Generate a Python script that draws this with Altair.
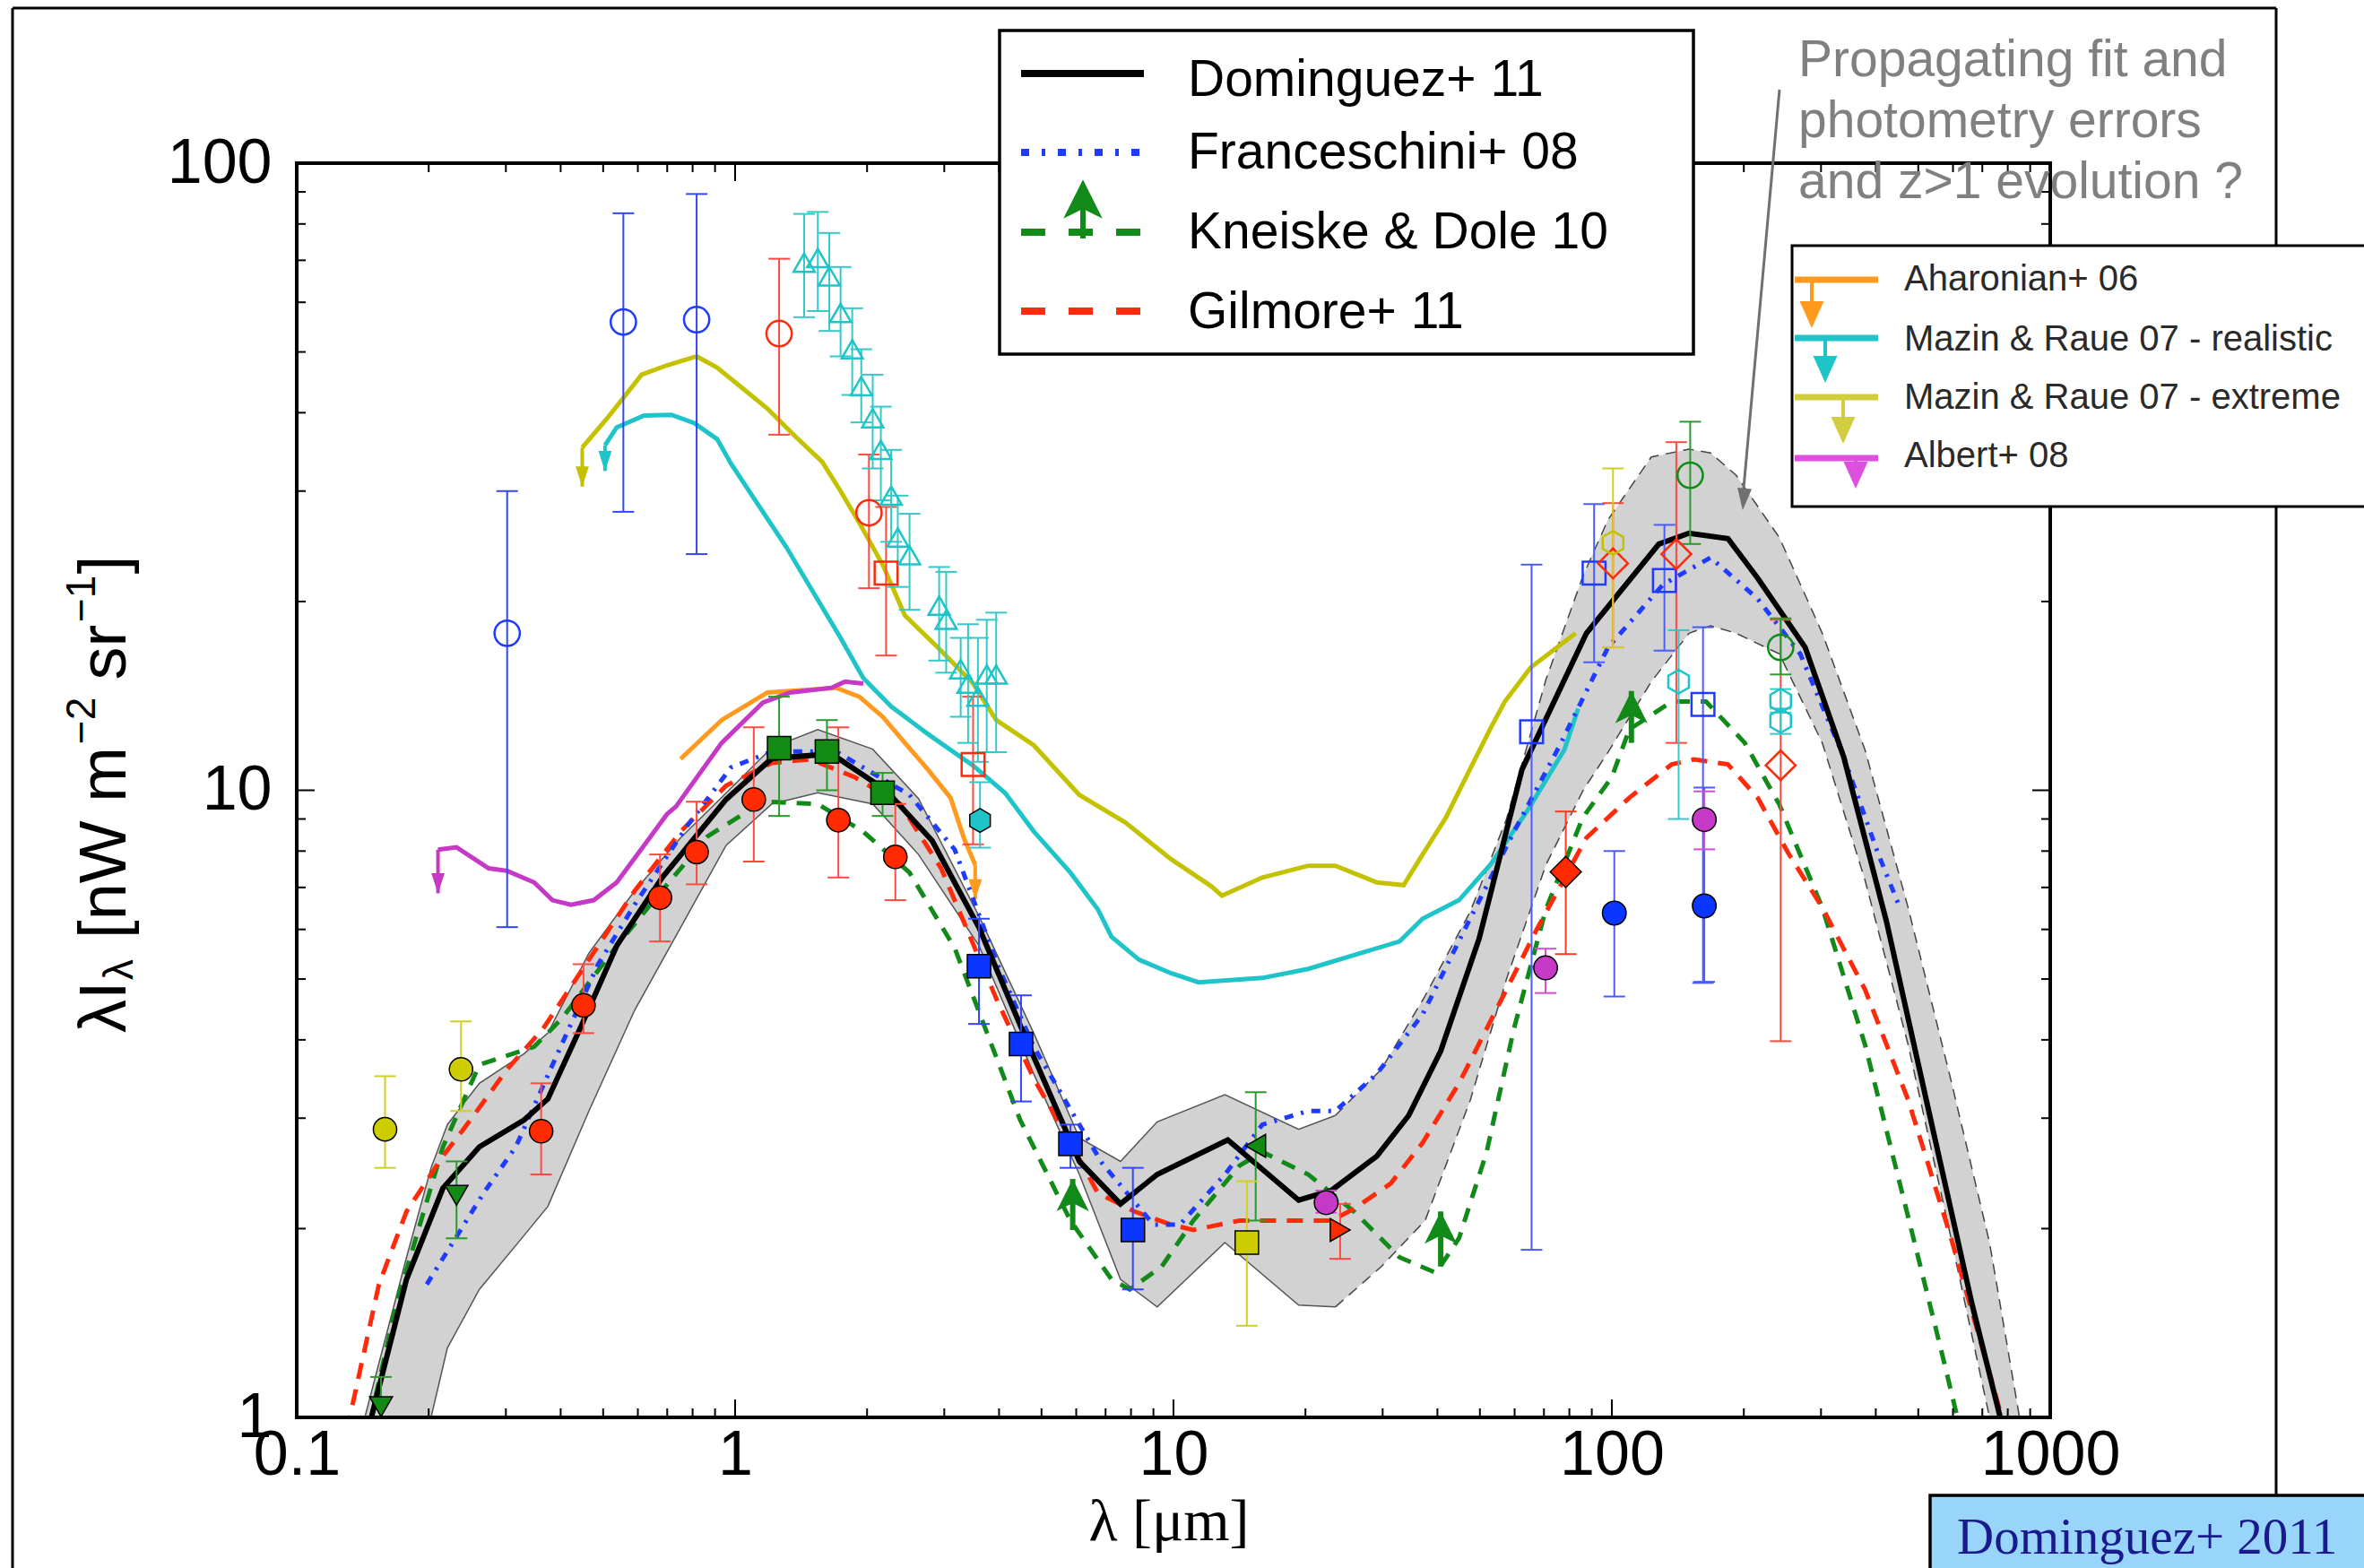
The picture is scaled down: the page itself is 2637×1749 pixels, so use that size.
import altair as alt
import pandas as pd

# ---------------- Dominguez+11 fit and its uncertainty band ----------------
dom_x = [0.148, 0.178, 0.2155, 0.261, 0.330, 0.374, 0.443, 0.537, 0.682, 0.954, 1.213, 1.66, 2.21, 2.815,
         3.60, 4.69, 6.10, 7.57, 9.18, 13.3, 19.3, 22.9, 29.1, 34.4, 40.7, 49.8, 62.4, 70.0, 87.5, 128,
         150, 184, 215, 276, 338, 423, 530, 664, 769]
dom_y = [1.0, 1.66, 2.32, 2.70, 2.98, 3.22, 4.17, 5.65, 7.26, 9.67, 11.24, 11.43, 10.0, 8.31,
         6.04, 3.90, 2.56, 2.19, 2.44, 2.77, 2.22, 2.30, 2.61, 3.03, 3.84, 5.8, 10.8, 12.8, 17.8, 24.7,
         25.7, 25.2, 21.8, 16.9, 11.3, 6.18, 3.05, 1.51, 1.0]

band_x = [0.143, 0.178, 0.2025, 0.2206, 0.261, 0.33, 0.374, 0.464, 0.59, 0.751, 0.954, 1.213, 1.544, 2.06,
          2.62, 3.6, 4.8, 6.1, 7.57, 9.18, 13.1, 19.3, 23.4, 29.8, 37.5, 47.5, 57.5, 70.7, 86, 98, 123,
          150, 168, 192, 241, 302, 378, 474, 593, 727, 851]
band_lo = [0.7, 0.85, 1.0, 1.29, 1.60, 1.95, 2.17, 3.08, 4.46, 6.04, 8.17, 9.51, 9.91, 9.51,
           7.90, 5.65, 3.53, 2.44, 1.66, 1.50, 1.90, 1.51, 1.50, 1.74, 2.06, 3.2, 5.0, 7.6, 10.0, 11.5, 14.9,
           17.8, 18.3, 17.8, 16.5, 11.9, 7.19, 3.93, 1.94, 1.0, 0.6]
band_hi = [1.0, 1.80, 2.5, 2.93, 3.41, 3.8, 4.1, 5.5, 6.91, 8.4, 9.9, 11.7, 12.5, 11.63,
           9.7, 6.3, 4.1, 2.79, 2.56, 2.96, 3.27, 2.88, 3.03, 3.59, 4.7, 6.4, 9.0, 15.0, 22.0, 27.0, 34.0,
           35.0, 34.5, 31.8, 25.3, 17.8, 11.6, 6.5, 3.46, 1.9, 1.0]

# ---------------- other EBL models ----------------
fra_x = [0.198, 0.267, 0.316, 0.40, 0.487, 0.59, 0.78, 0.978, 1.213, 1.70, 2.50, 3.17, 4.0, 4.80, 6.1,
         6.88, 9.0, 10.35, 13.1, 15.95, 20.3, 23.4, 29.1, 37.0, 47.0, 59.8, 76.1, 98, 131, 168, 215, 269,
         338, 404, 450]
fra_y = [1.63, 2.28, 2.70, 3.9, 5.28, 6.57, 8.8, 10.87, 11.53, 11.53, 9.83, 8.04, 5.2, 3.90, 2.93,
         2.54, 2.03, 2.03, 2.44, 2.93, 3.08, 3.08, 3.53, 4.39, 6.15, 8.59, 11.8, 16.9, 21.3, 23.5, 20.2, 16.5,
         11.3, 7.96, 6.6]

kne_x = [0.145, 0.150, 0.169, 0.2155, 0.261, 0.348, 0.402, 0.537, 0.666, 0.867, 1.157, 1.544, 1.96, 2.50,
         3.17, 4.47, 5.82, 7.22, 7.95, 9.40, 11.1, 14.15, 15.95, 20.3, 25.8, 32.8, 39.7, 44.8, 51.8, 59.8,
         70.7, 85.8, 100, 109.6, 137, 164, 201, 241, 302, 378, 474, 567, 614]
kne_y = [0.9, 1.05, 1.52, 2.70, 3.65, 3.90, 4.32, 5.65, 6.79, 8.45, 9.59, 9.51, 8.59, 7.39,
         5.6, 2.98, 2.06, 1.66, 1.60, 1.74, 2.06, 2.52, 2.65, 2.44, 2.13, 1.80, 1.70, 1.93, 2.65, 4.17,
         6.46, 9.04, 10.5, 12.5, 13.85, 13.85, 11.9, 9.49, 6.5, 3.93, 2.09, 1.26, 1.0]
kne_arrow_x = [5.89, 40.7, 110.8]
kne_arrow_base = [1.99, 1.74, 11.9]
kne_arrow_tip = [2.40, 2.13, 14.4]

gil_x = [0.13, 0.154, 0.178, 0.2155, 0.249, 0.302, 0.365, 0.464, 0.59, 0.751, 0.954, 1.213, 1.485, 1.87,
         2.38, 2.95, 3.96, 4.80, 5.82, 6.72, 8.14, 9.86, 11.1, 14.15, 22.9, 25.8, 31.3, 37.0, 44.8, 53.0,
         67.4, 87.5, 109.6, 137, 154, 184, 215, 252, 302, 378, 474, 593, 743, 790]
gil_y = [0.95, 1.63, 2.13, 2.61, 2.98, 3.59, 4.17, 5.37, 6.91, 8.59, 10.17, 11.06, 11.2, 10.5,
         9.51, 7.51, 4.62, 3.47, 2.74, 2.28, 2.13, 2.03, 1.99, 2.06, 2.06, 2.15, 2.36, 2.74, 3.41, 4.3,
         6.0, 8.4, 9.73, 11.0, 11.2, 11.0, 9.73, 7.96, 6.5, 4.81, 3.21, 1.94, 1.115, 0.95]

# ---------------- upper limits ----------------
aha_x = [0.751, 0.932, 1.185, 1.70, 1.92, 2.17, 2.44, 2.75, 3.10, 3.33, 3.53]
aha_y = [11.22, 12.94, 14.32, 14.57, 14.1, 13.1, 11.9, 10.8, 9.73, 8.37, 7.6]
aha_tip = 6.7

alb_x = [0.21, 0.2315, 0.274, 0.302, 0.348, 0.383, 0.422, 0.476, 0.537, 0.62, 0.699, 0.733, 0.932,
         1.157, 1.336, 1.66, 1.78, 1.96]
alb_y = [8.04, 8.11, 7.51, 7.44, 7.13, 6.68, 6.57, 6.68, 7.13, 8.17, 9.16, 9.42, 11.9,
         13.8, 14.32, 14.57, 14.9, 14.8]
alb_tip = 6.85

mrr_x = [0.505, 0.537, 0.62, 0.716, 0.807, 0.91, 0.978, 1.13, 1.305, 1.507, 1.74, 1.96, 2.27, 2.75,
         3.49, 4.13, 4.80, 5.82, 6.72, 7.22, 8.34, 9.86, 11.4, 15.95, 20.3, 25.8, 32.8, 37.0, 44.8, 53.0,
         64.3, 77.9, 83.8]
mrr_y = [35.5, 37.9, 39.6, 39.7, 38.5, 36.3, 33.2, 28.5, 24.5, 20.7, 17.5, 15.1, 13.6, 12.3,
         10.95, 9.9, 8.6, 7.39, 6.46, 5.84, 5.37, 5.11, 4.94, 5.02, 5.19, 5.46, 5.74, 6.24, 6.68, 7.63,
         9.3, 11.6, 13.5]
mrr_tip = 32.3

mre_x = [0.448, 0.511, 0.612, 0.699, 0.817, 0.91, 1.026, 1.185, 1.37, 1.58, 1.74, 1.92, 2.17, 2.44,
         2.95, 3.49, 3.94, 4.80, 6.10, 7.76, 9.86, 12.2, 12.9, 15.95, 20.3, 23.4, 29.1, 33.5, 37.0,
         41.8, 47.0, 53.0, 57.0, 65.3, 82.7]
mre_y = [35.2, 39.2, 46.0, 47.6, 49.2, 47.2, 44.1, 40.6, 36.7, 33.4, 30.0, 26.7, 22.9, 19.0,
         16.7, 14.8, 12.94, 11.8, 9.83, 8.89, 7.77, 7.03, 6.79, 7.26, 7.58, 7.58, 7.13, 7.06, 7.90,
         9.04, 10.66, 12.6, 13.85, 15.7, 17.8]
mre_tip = 30.5

# ---------------- photometric / fluctuation data points ----------------
pts_blue_open_circ = dict(x=[0.302, 0.556, 0.817], y=[17.8, 55.8, 56.3], lo=[6.05, 27.8, 23.8], hi=[30.0, 83.2, 89.3])
pts_red_open_circ = dict(x=[1.26, 2.02], y=[53.5, 27.7], lo=[36.9, 21.0], hi=[70.4, 34.3])
pts_red_open_sq = dict(x=[2.21, 3.49], y=[22.2, 10.99], lo=[16.4, 8.2], hi=[28.3, 14.1])
pts_cyan_open_tri = dict(
    x=[1.437, 1.544, 1.64, 1.74, 1.85, 1.94, 2.06, 2.15, 2.27, 2.35, 2.50, 2.92, 3.03, 3.27, 3.40, 3.58, 3.75, 3.94],
    y=[69.4, 70.6, 66.0, 57.7, 50.5, 44.1, 39.2, 34.9, 29.5, 25.3, 23.7, 19.7, 18.7, 15.6, 14.8, 14.1, 15.3, 15.3],
    lo=[56.8, 58.1, 54.0, 49.2, 42.7, 38.6, 32.6, 29.0, 24.9, 21.1, 19.4, 16.1, 15.4, 13.1, 11.9, 11.1, 11.5, 11.5],
    hi=[83.0, 83.6, 77.4, 68.3, 58.7, 50.5, 46.0, 40.9, 34.9, 29.5, 27.6, 22.7, 22.3, 17.5, 18.4, 17.5, 18.7, 19.2])
pts_cyan_filled_hex = dict(x=[3.62], y=[8.95], lo=[8.1], hi=[10.3])
pts_blue_open_sq = dict(x=[65.6, 91.1, 131.8, 161.4], y=[12.4, 22.2, 21.6, 13.7], lo=[1.85, 16.0, 16.7, 4.93], hi=[22.9, 28.6, 26.5, 18.2])
pts_blue_filled_circ = dict(x=[101.3, 162.5], y=[6.37, 6.54], lo=[4.69, 4.95], hi=[8.0, 10.1])
pts_magenta_filled_circ = dict(x=[22.3, 70.6, 162.5], y=[2.20, 5.21, 8.98], lo=[2.12, 4.75, 8.05], hi=[2.30, 5.59, 9.96])
pts_red_filled_diamond = dict(x=[78.5], y=[7.41], lo=[5.48], hi=[9.25])
pts_red_open_diamond = dict(x=[100.6, 140.3, 242.7], y=[23.0, 23.8, 10.96], lo=[16.9, 11.9, 3.98], hi=[28.7, 35.9, 18.7])
pts_yellow_open_hex = dict(x=[100.6], y=[24.8], lo=[16.9], hi=[32.6])
pts_green_open_circ = dict(x=[150.9, 242.7], y=[31.8, 16.9], lo=[24.7, 15.3], hi=[38.7, 18.8])
pts_cyan_open_hex = dict(x=[142.0, 242.7, 242.7], y=[14.9, 13.9, 12.9], lo=[9.0, 13.3, 12.3], hi=[18.0, 14.5, 13.5])
pts_red_filled_circ = dict(x=[0.361, 0.451, 0.674, 0.817, 1.103, 1.72, 2.32], y=[2.86, 4.54, 6.74, 7.97, 9.67, 8.96, 7.83],
                           lo=[2.44, 4.1, 5.74, 7.08, 7.7, 7.26, 6.68], hi=[3.41, 5.28, 7.9, 9.59, 12.6, 12.6, 9.51])
pts_green_filled_sq = dict(x=[1.26, 1.62, 2.17], y=[11.67, 11.53, 9.91], lo=[9.1, 10.0, 9.1], hi=[14.1, 12.94, 10.66])
pts_green_filled_tri_down = dict(x=[0.1557, 0.2315], y=[1.04, 2.26], lo=[0.9, 1.93], hi=[1.16, 2.56])
pts_yellow_filled_circ = dict(x=[0.159, 0.237], y=[2.88, 3.59], lo=[2.5, 3.08], hi=[3.5, 4.28])
pts_blue_filled_sq = dict(x=[3.60, 4.49, 5.82, 8.08], y=[5.24, 3.94, 2.73, 1.99], lo=[4.24, 3.19, 2.5, 1.60], hi=[6.24, 4.71, 2.93, 2.5])
pts_green_filled_tri_left = dict(x=[15.4], y=[2.71], lo=[2.06], hi=[3.30])
pts_yellow_filled_sq = dict(x=[14.7], y=[1.90], lo=[1.40], hi=[2.38])
pts_red_filled_tri_right = dict(x=[24.0], y=[1.99], lo=[1.79], hi=[2.19])

# ---------------- texts ----------------
legend_models = ["Dominguez+ 11", "Franceschini+ 08", "Kneiske & Dole 10", "Gilmore+ 11"]
legend_limits = ["Aharonian+ 06", "Mazin & Raue 07 - realistic", "Mazin & Raue 07 - extreme", "Albert+ 08"]
note_lines = ["Propagating fit and", "photometry errors", "and z>1 evolution ?"]
x_tick_values = [0.1, 1, 10, 100, 1000]
y_tick_values = [1, 10, 100]

# ======================= layout / styling =======================
LEFT, TOP = 331, 182
W, H = 1956, 1399
FONT = "Liberation Sans"

def px(v):
    return v - LEFT

def py(v):
    return v - TOP

XS = alt.Scale(type="log", domain=[0.1, 1000])
YS = alt.Scale(type="log", domain=[1, 100])
XA = alt.Axis(values=x_tick_values, format="~g", labelFont=FONT, labelFontSize=70, labelColor="black",
              labelPadding=8, labelFlush=False, labelOverlap=False, labelBaseline="top",
              ticks=False, domain=False, grid=False)
YA = alt.Axis(values=y_tick_values, format="~g", labelFont=FONT, labelFontSize=70, labelColor="black",
              labelPadding=28, labelFlush=False, labelOverlap=False, labelBaseline="middle", labelAlign="right",
              ticks=False, domain=False, grid=False)


def X(f="x"):
    return alt.X(f"{f}:Q", scale=XS, axis=XA, title=None)


def Y(f="y"):
    return alt.Y(f"{f}:Q", scale=YS, axis=YA, title=None)


ONE = pd.DataFrame({"a": [0]})
layers = []


def line(xs, ys, color, width, dash=None):
    df = pd.DataFrame({"x": xs, "y": ys, "o": list(range(len(xs)))})
    kw = dict(color=color, strokeWidth=width, clip=True)
    if dash:
        kw["strokeDash"] = dash
    return alt.Chart(df).mark_line(**kw).encode(x=X(), y=Y(), order="o:Q")


def seg(x1, y1, x2, y2, color, w, dash=None):
    kw = dict(color=color, strokeWidth=w)
    if dash:
        kw["strokeDash"] = dash
    return alt.Chart(ONE).mark_rule(**kw).encode(
        x=alt.value(px(x1)), x2=alt.value(px(x2)), y=alt.value(py(y1)), y2=alt.value(py(y2)))


def box(x1, y1, x2, y2, fill, w=3.5):
    return alt.Chart(ONE).mark_rect(fill=fill, stroke="black", strokeWidth=w).encode(
        x=alt.value(px(x1)), x2=alt.value(px(x2)), y=alt.value(py(y1)), y2=alt.value(py(y2)))


def txt(x, y, s, size, color="black", font=FONT, align="left", baseline="alphabetic", angle=0):
    kw = dict(text=s, fontSize=size, color=color, font=font, align=align, baseline=baseline)
    if angle:
        kw["angle"] = angle
    return alt.Chart(ONE).mark_text(**kw).encode(x=alt.value(px(x)), y=alt.value(py(y)))


def pixhead(x, y, color, size, path, angle=0):
    kw = dict(shape=path, filled=True, fill=color, strokeWidth=0, size=size, opacity=1)
    if angle:
        kw["angle"] = angle
    return alt.Chart(ONE).mark_point(**kw).encode(x=alt.value(px(x)), y=alt.value(py(y)))


def datahead(x, y, color, size, path, yoff):
    df = pd.DataFrame({"x": [x], "y": [y]})
    return alt.Chart(df).mark_point(shape=path, filled=True, fill=color, strokeWidth=0, size=size,
                                    opacity=1, yOffset=yoff, clip=True).encode(x=X(), y=Y())


def datastem(x, y1, y2, color, w):
    df = pd.DataFrame({"x": [x], "y": [y1], "y2": [y2]})
    return alt.Chart(df).mark_rule(color=color, strokeWidth=w, clip=True).encode(x=X(), y=Y(), y2=alt.Y2("y2:Q"))


def errbars(d, color, cap=24, w=2):
    df = pd.DataFrame({"x": d["x"], "lo": d["lo"], "hi": d["hi"]})
    base = alt.Chart(df)
    r = base.mark_rule(color=color, strokeWidth=w, clip=True).encode(x=X(), y=Y("lo"), y2=alt.Y2("hi:Q"))
    c1 = base.mark_tick(orient="horizontal", size=cap, thickness=w, color=color, opacity=1, clip=True).encode(x=X(), y=Y("lo"))
    c2 = base.mark_tick(orient="horizontal", size=cap, thickness=w, color=color, opacity=1, clip=True).encode(x=X(), y=Y("hi"))
    return [r, c1, c2]


def markers(d, shape, color, size, filled, sw=1.5):
    df = pd.DataFrame({"x": d["x"], "y": d["y"]})
    if filled:
        m = alt.Chart(df).mark_point(shape=shape, filled=True, fill=color, stroke="black", strokeWidth=sw,
                                     size=size, opacity=1, clip=True)
    else:
        m = alt.Chart(df).mark_point(shape=shape, filled=False, color=color, strokeWidth=2.5,
                                     size=size, opacity=1, clip=True)
    return m.encode(x=X(), y=Y())


HEX = "M0,-1L0.866,-0.5L0.866,0.5L0,1L-0.866,0.5L-0.866,-0.5Z"
DOWN_HEAD = "M-0.65,-1L0.65,-1L0,1Z"
WIDE_DOWN = "M-0.9,-1L0.9,-1L0,1Z"
UP_NOTCH = "M0,-1L1,1L0,0.5L-1,1Z"

C_BLUE, C_RED, C_GREEN = "#1f3bff", "#ff2a0a", "#128a1a"
C_ORANGE, C_CYAN, C_OLIVE, C_MAG = "#ff9a1f", "#1fc4c8", "#c4c200", "#c638c6"

# ---- outer slide frame ----
layers.append(seg(14, 9, 14, 1760, "black", 3))
layers.append(seg(14, 9, 2539, 9, "black", 3))
layers.append(seg(2539, 9, 2539, 1668, "black", 3))

# ---- uncertainty band ----
band_df = pd.DataFrame({"x": band_x, "lo": band_lo, "hi": band_hi})
layers.append(alt.Chart(band_df).mark_area(color="#d2d2d2", opacity=1, clip=True).encode(
    x=X(), y=Y("lo"), y2=alt.Y2("hi:Q")))
split = 23
layers.append(line(band_x[:split], band_lo[:split], "#555555", 1.5))
layers.append(line(band_x[:split], band_hi[:split], "#555555", 1.5))
layers.append(line(band_x[split - 1:], band_lo[split - 1:], "#444444", 1.5, [12, 8]))
layers.append(line(band_x[split - 1:], band_hi[split - 1:], "#444444", 1.5, [12, 8]))

# ---- upper limit curves with their arrows ----
for xs, ys, tip, col in [(mre_x, mre_y, mre_tip, C_OLIVE), (mrr_x, mrr_y, mrr_tip, C_CYAN),
                         (aha_x, aha_y, aha_tip, C_ORANGE), (alb_x, alb_y, alb_tip, C_MAG)]:
    layers.append(line(xs, ys, col, 5))
    end = xs[0] if col in (C_OLIVE, C_CYAN, C_MAG) else xs[-1]
    top = ys[0] if col in (C_OLIVE, C_CYAN, C_MAG) else ys[-1]
    layers.append(datastem(end, top, tip, col, 4))
    layers.append(datahead(end, tip, col, 520, DOWN_HEAD, -11))

# ---- models ----
layers.append(line(kne_x, kne_y, C_GREEN, 5, [16, 12]))
layers.append(line(gil_x, gil_y, C_RED, 5, [18, 12]))
layers.append(line(fra_x, fra_y, C_BLUE, 5, [10, 9, 3, 9]))
layers.append(line(dom_x, dom_y, "black", 6))
for ax, ab, at in zip(kne_arrow_x, kne_arrow_base, kne_arrow_tip):
    layers.append(datastem(ax, ab, at, C_GREEN, 6))
    layers.append(datahead(ax, at, C_GREEN, 1300, UP_NOTCH, 18))

# ---- error bars ----
for d, c in [(pts_blue_open_circ, "#3346ff"), (pts_red_open_circ, "#ff4a40"), (pts_red_open_sq, "#ff4a40"),
             (pts_cyan_open_tri, "#35c8c8"), (pts_cyan_filled_hex, "#35c8c8"), (pts_blue_open_sq, "#4a5cff"),
             (pts_blue_filled_circ, "#4a5cff"), (pts_magenta_filled_circ, "#d050d0"),
             (pts_red_filled_diamond, "#ff3a20"), (pts_red_open_diamond, "#ff4a40"),
             (pts_yellow_open_hex, "#d0d020"), (pts_green_open_circ, "#2a9a2a"), (pts_cyan_open_hex, "#35c8c8"),
             (pts_red_filled_circ, "#ff4a40"), (pts_green_filled_sq, "#2a9a2a"),
             (pts_green_filled_tri_down, "#2a9a2a"), (pts_yellow_filled_circ, "#d0d020"),
             (pts_blue_filled_sq, "#3346ff"), (pts_green_filled_tri_left, "#2a9a2a"),
             (pts_yellow_filled_sq, "#d0d020"), (pts_red_filled_tri_right, "#ff4a40")]:
    layers.extend(errbars(d, c))

# ---- markers ----
layers.append(markers(pts_blue_open_circ, "circle", C_BLUE, 800, False))
layers.append(markers(pts_red_open_circ, "circle", C_RED, 800, False))
layers.append(markers(pts_red_open_sq, "square", C_RED, 650, False))
layers.append(markers(pts_cyan_open_tri, "triangle-up", C_CYAN, 560, False))
layers.append(markers(pts_cyan_filled_hex, HEX, C_CYAN, 700, True))
layers.append(markers(pts_blue_open_sq, "square", C_BLUE, 650, False))
layers.append(markers(pts_red_open_diamond, "diamond", C_RED, 1100, False))
layers.append(markers(pts_yellow_open_hex, HEX, C_OLIVE, 700, False))
layers.append(markers(pts_green_open_circ, "circle", C_GREEN, 800, False))
layers.append(markers(pts_cyan_open_hex, HEX, C_CYAN, 700, False))
layers.append(markers(pts_blue_filled_circ, "circle", "#0b36ff", 700, True))
layers.append(markers(pts_magenta_filled_circ, "circle", C_MAG, 700, True))
layers.append(markers(pts_red_filled_diamond, "diamond", "#ff2a00", 1200, True))
layers.append(markers(pts_red_filled_circ, "circle", "#ff2a00", 680, True))
layers.append(markers(pts_green_filled_sq, "square", "#138a13", 680, True))
layers.append(markers(pts_green_filled_tri_down, "triangle-down", "#138a13", 650, True))
layers.append(markers(pts_yellow_filled_circ, "circle", "#cccc00", 680, True))
layers.append(markers(pts_blue_filled_sq, "square", "#0b36ff", 680, True))
layers.append(markers(pts_green_filled_tri_left, "triangle-left", "#138a13", 650, True))
layers.append(markers(pts_yellow_filled_sq, "square", "#cccc00", 680, True))
layers.append(markers(pts_red_filled_tri_right, "triangle-right", "#ff2a00", 650, True))

# ---- axes frame and inward ticks ----
xt_minor = [m * 10.0 ** e for e in (-1, 0, 1, 2) for m in range(2, 10)]
yt_minor = [m * 10.0 ** e for e in (0, 1) for m in range(2, 10)]
for vals, ln in [(x_tick_values, 20), (xt_minor, 10)]:
    dfx = pd.DataFrame({"x": vals})
    layers.append(alt.Chart(dfx).mark_rule(color="black", strokeWidth=2).encode(
        x=X(), y=alt.value(H), y2=alt.value(H - ln)))
    layers.append(alt.Chart(dfx).mark_rule(color="black", strokeWidth=2).encode(
        x=X(), y=alt.value(0), y2=alt.value(ln)))
for vals, ln in [(y_tick_values, 20), (yt_minor, 10)]:
    dfy = pd.DataFrame({"y": vals})
    layers.append(alt.Chart(dfy).mark_rule(color="black", strokeWidth=2).encode(
        y=Y(), x=alt.value(0), x2=alt.value(ln)))
    layers.append(alt.Chart(dfy).mark_rule(color="black", strokeWidth=2).encode(
        y=Y(), x=alt.value(W), x2=alt.value(W - ln)))
layers.append(alt.Chart(ONE).mark_rect(fillOpacity=0, stroke="black", strokeWidth=4).encode(
    x=alt.value(0), x2=alt.value(W), y=alt.value(0), y2=alt.value(H)))

# ---- axis titles ----
layers.append(txt(1304, 1718, "λ [μm]", 66, font="Liberation Serif", align="center"))
CW = {'λ': 0.52, 'I': 0.278, '[': 0.278, 'n': 0.556, 'W': 0.944, 'm': 0.833, ' ': 0.278,
      '−': 0.584, '2': 0.556, 's': 0.5, 'r': 0.333, '1': 0.556, ']': 0.278}
# (text, relative size, perpendicular shift, gap before in em of main size)
ytitle = [("λI", 1.0, 0, 0), ("λ", 0.62, 16, 0), ("[nW m", 1.0, 0, 0.30), ("−2", 0.62, -26, 0.04),
          ("sr", 1.0, 0, 0.26), ("−1", 0.62, -26, 0.04), ("]", 1.0, 0, 0.02)]
YT_FS = 74
ypos = 1152
for s, sc, dx, gap in ytitle:
    fs = YT_FS * sc
    ypos -= gap * YT_FS
    layers.append(txt(118 + dx, ypos, s, fs, align="left", baseline="middle", angle=270))
    ypos -= sum(CW[c] for c in s) * fs

# ---- model legend box ----
layers.append(box(1115, 34, 1889, 395, "white"))
leg_y = [82, 170, 259, 347]
leg_base = [107, 188, 277, 366]
layers.append(seg(1139, leg_y[0], 1276, leg_y[0], "black", 8))
layers.append(seg(1139, leg_y[1], 1276, leg_y[1], C_BLUE, 8, [9, 14, 4, 14]))
layers.append(seg(1139, leg_y[2], 1276, leg_y[2], C_GREEN, 8, [27, 26]))
layers.append(seg(1139, leg_y[3], 1276, leg_y[3], C_RED, 8, [27, 26]))
layers.append(seg(1208, 266, 1208, 215, C_GREEN, 6))
layers.append(pixhead(1208, 222, C_GREEN, 1900, UP_NOTCH))
for t, b in zip(legend_models, leg_base):
    layers.append(txt(1325, b, t, 57))

# ---- annotation ----
for t, b in zip(note_lines, [85, 153, 221]):
    layers.append(txt(2006, b, t, 57, color="#808080"))
layers.append(seg(1985, 100, 1944, 556, "#707070", 3))

# ---- upper-limit legend box ----
layers.append(box(1999, 274, 2660, 565, "white", 3))
lim_cols = [C_ORANGE, C_CYAN, "#d2cc40", "#dd50dd"]
lim_y = [312, 377, 443, 511]
lim_ax = [2021, 2036, 2056, 2070]
lim_tip = [366, 427, 495, 545]
lim_base = [324, 391, 456, 521]
for c, ly, ax, tp, bl, t in zip(lim_cols, lim_y, lim_ax, lim_tip, lim_base, legend_limits):
    layers.append(seg(2002, ly, 2095, ly, c, 7))
    layers.append(seg(ax, ly, ax, tp - 14, c, 4))
    layers.append(pixhead(ax, tp - 15, c, 900, WIDE_DOWN))
    layers.append(txt(2124, bl, t, 40, color="#2a2a2a"))
layers.append(pixhead(1945, 557, "#707070", 600, DOWN_HEAD, angle=5))

# ---- reference box ----
layers.append(box(2153, 1668, 2660, 1760, "#99d5fb", 3.5))
layers.append(txt(2183, 1733, "Dominguez+ 2011", 57, color="#1a1a8c", font="Liberation Serif"))

chart = alt.layer(*layers).properties(
    width=W, height=H,
    padding={"left": LEFT, "top": TOP, "right": 2637 - LEFT - W, "bottom": 1749 - TOP - H},
    autosize=alt.AutoSizeParams(type="none"),
    background="white",
).configure_view(stroke="transparent")

chart.save("out.html", embed_options={"renderer": "svg", "actions": False})
